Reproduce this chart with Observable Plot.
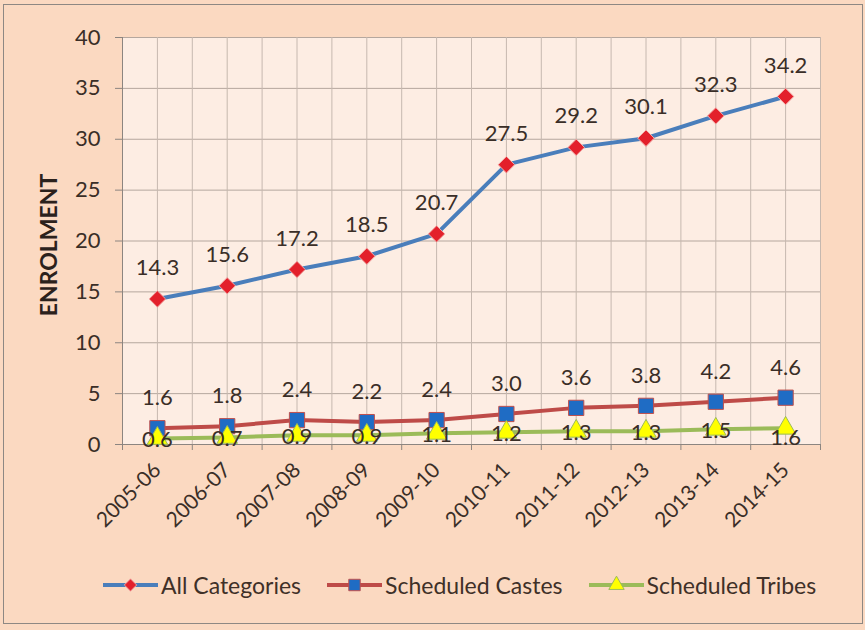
<!DOCTYPE html>
<html><head><meta charset="utf-8">
<script src="https://cdn.jsdelivr.net/npm/d3@7"></script>
<script src="https://cdn.jsdelivr.net/npm/@observablehq/plot@0.6"></script>
<style>
html,body{margin:0;padding:0;background:#fbd9c1;}
#wrap{position:relative;width:865px;height:630px;background:#fbd9c1;overflow:hidden;font-family:Lato,"Open Sans",sans-serif;}
#frame{position:absolute;left:3px;top:4px;width:860px;height:620px;border:1.5px solid #8e8883;box-sizing:border-box;pointer-events:none;}
#chart svg{display:block;}
#legend{position:relative;height:50px;display:flex;align-items:center;padding-left:103px;box-sizing:border-box;}
.item{display:flex;align-items:center;margin-right:26px;}
.item span{font-size:23px;color:#3f3028;margin-left:3px;}
</style></head>
<body>
<div id="wrap"><div id="chart"></div><div id="legend"></div><div id="frame"></div></div>
<script>
const years = ["2005-06","2006-07","2007-08","2008-09","2009-10","2010-11","2011-12","2012-13","2013-14","2014-15"];
const allCategories = [14.3,15.6,17.2,18.5,20.7,27.5,29.2,30.1,32.3,34.2];
const scheduledCastes = [1.6,1.8,2.4,2.2,2.4,3.0,3.6,3.8,4.2,4.6];
const scheduledTribes = [0.6,0.7,0.9,0.9,1.1,1.2,1.3,1.3,1.5,1.6];
const seriesNames = ["All Categories","Scheduled Castes","Scheduled Tribes"];
const yTicks = [0,5,10,15,20,25,30,35,40];
const yLabel = "ENROLMENT";

const idx = years.map((_, i) => i);
const edges = d3.range(years.length + 1).map(i => i - 0.5);
const rows = vals => vals.map((v, i) => ({i, year: years[i], v}));
const A = rows(allCategories), C = rows(scheduledCastes), T = rows(scheduledTribes);
const last = years.length - 1;

const styles = [
  {line:"#4a7ebb", symbol:"diamond2", r:7.4, fill:"#e3202b", stroke:"#f2a9a6"},
  {line:"#be4b48", symbol:"square", r:8.6, fill:"#1f6cc4", stroke:"#c0504d"},
  {line:"#9bbb59", symbol:"triangle", r:7.6, fill:"#ffff00", stroke:"#9bbb59"}
];
const txt = "#3a2e27";

const chart = Plot.plot({
  width: 865, height: 560,
  marginLeft: 122, marginRight: 45, marginTop: 37, marginBottom: 116,
  style: {background: "transparent", fontFamily: "Lato, 'Open Sans', sans-serif", color: txt},
  x: {type: "linear", domain: [-0.5, years.length - 0.5]},
  y: {domain: [0, 40]},
  marks: [
    Plot.frame({fill: "#fdede3", stroke: null}),
    Plot.ruleY(yTicks, {stroke: "#b5a79e"}),
    Plot.ruleX(d3.range(-0.5, years.length, 0.5), {stroke: "#c6b8af"}),
    Plot.ruleX([-0.5], {stroke: "#8c8580"}),
    Plot.ruleY([0], {stroke: "#8c8580"}),
    Plot.axisY(yTicks, {tickSize: 7, tickPadding: 15, fontSize: 22, stroke: "#8c8580", fill: txt, label: null}),
    Plot.axisX(edges, {tickSize: 6, tickFormat: () => "", stroke: "#8c8580", label: null}),
    Plot.axisX(idx, {tickSize: 0, tickPadding: 22, tickRotate: -45, tickFormat: i => years[i], fontSize: 21, fill: txt, label: null}),
    Plot.line(A, {x: "i", y: "v", stroke: styles[0].line, strokeWidth: 4}),
    Plot.dot(A, {x: "i", y: "v", symbol: styles[0].symbol, r: styles[0].r, fill: styles[0].fill, stroke: styles[0].stroke, strokeWidth: 1}),
    Plot.line(C, {x: "i", y: "v", stroke: styles[1].line, strokeWidth: 4}),
    Plot.dot(C, {x: "i", y: "v", symbol: styles[1].symbol, r: styles[1].r, fill: styles[1].fill, stroke: styles[1].stroke, strokeWidth: 1}),
    Plot.line(T, {x: "i", y: "v", stroke: styles[2].line, strokeWidth: 4}),
    Plot.dot(T, {x: "i", y: "v", symbol: styles[2].symbol, r: styles[2].r, fill: styles[2].fill, stroke: styles[2].stroke, strokeWidth: 1}),
    Plot.text(A, {x: "i", y: "v", text: d => d.v.toFixed(1), dy: -31, fontSize: 22, fill: txt}),
    Plot.text(C, {x: "i", y: "v", text: d => d.v.toFixed(1), dy: -30, fontSize: 22, fill: txt}),
    Plot.text(T, {filter: d => d.i !== last, x: "i", y: "v", text: d => d.v.toFixed(1), dy: 2, fontSize: 22, fill: txt}),
    Plot.text(T, {filter: d => d.i === last, x: "i", y: "v", text: d => d.v.toFixed(1), dy: 10, fontSize: 22, fill: txt}),
    Plot.text([yLabel], {frameAnchor: "left", textAnchor: "middle", rotate: -90, dx: -73, dy: 4, fontSize: 23, fontWeight: "bold", fill: "#2b211c"})
  ]
});
document.getElementById("chart").appendChild(chart);

const legend = document.getElementById("legend");
const sym = {diamond2: d3.symbolDiamond2, square: d3.symbolSquare, triangle: d3.symbolTriangle};
seriesNames.forEach((name, k) => {
  const s = styles[k];
  const item = document.createElement("div");
  item.className = "item";
  const path = d3.symbol(sym[s.symbol], Math.PI * (s.r * 0.75) ** 2)();
  item.innerHTML = `<svg width="55" height="18"><line x1="0" x2="55" y1="9" y2="9" stroke="${s.line}" stroke-width="4"/><path transform="translate(27.5,9)" d="${path}" fill="${s.fill}" stroke="${s.stroke}"/></svg><span>${name}</span>`;
  legend.appendChild(item);
});
</script>
</body></html>
